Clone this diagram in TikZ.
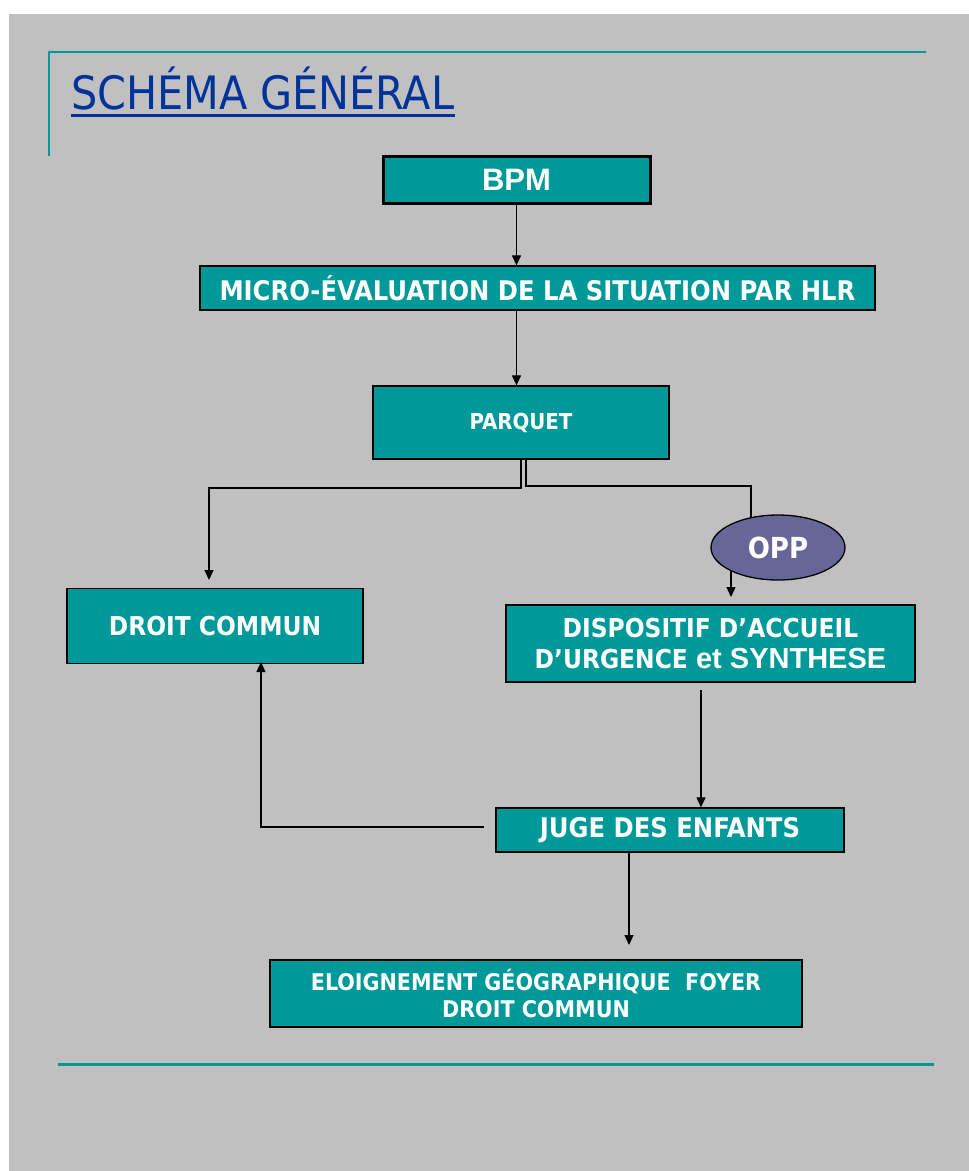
\documentclass[tikz,border=0pt]{standalone}
\usepackage{fontspec}
\usetikzlibrary{arrows.meta,shapes.geometric}
\newfontfamily\cond{DejaVu Sans Condensed}
\newfontfamily\arialf{Liberation Sans}
\definecolor{bggray}{HTML}{C0C0C0}
\definecolor{tealc}{HTML}{009999}
\definecolor{titleblue}{HTML}{003399}
\definecolor{oppcol}{HTML}{666699}
\begin{document}
\begin{tikzpicture}[x=1pt,y=-1pt,
  box/.style={draw=black, line width=1.3pt, fill=tealc, text=white, inner sep=0pt, align=center, font=\cond\bfseries},
  conn/.style={line width=1.2pt, draw=black},
  arr/.style={conn, -{Triangle[width=9pt,length=10pt]}},
  rule/.style={draw=tealc, line width=2pt}]
\useasboundingbox (0,0) rectangle (969,1171);
\fill[white] (0,0) rectangle (969,1171);
\fill[bggray] (9,14) rectangle (969,1171);
% frame lines
\draw[rule] (49,156) -- (49,52) -- (926,52);
\draw[rule, line width=3pt] (58,1064) -- (934,1064);
% title
\node[anchor=base west, text=titleblue, inner sep=0pt, font=\cond\fontsize{46}{50}\selectfont] (title) at (71,109) {SCHÉMA GÉNÉRAL};
\draw[titleblue, line width=3pt] ([yshift=-6pt]title.base west) -- ([yshift=-6pt]title.base east);
% nodes
\node[box, line width=3pt, minimum width=267, minimum height=47, font=\arialf\bfseries\fontsize{31}{33}\selectfont] (bpm) at (516.5,179.5) {BPM};
\node[box, minimum width=675, minimum height=44, font=\cond\bfseries\fontsize{27}{30}\selectfont] (micro) at (537.5,288) {MICRO-ÉVALUATION DE LA SITUATION PAR HLR};
\node[box, minimum width=296, minimum height=73, font=\cond\bfseries\fontsize{22}{26}\selectfont] (parquet) at (521,422.5) {PARQUET};
\node[box, minimum width=296, minimum height=75, font=\cond\bfseries\fontsize{26}{29}\selectfont] (droit) at (215,626) {DROIT COMMUN};
\node[ellipse, draw=black, line width=1.3pt, fill=oppcol, text=white, inner sep=0pt, minimum width=134, minimum height=65, font=\cond\bfseries\fontsize{29}{31}\selectfont] (opp) at (778,547.5) {OPP};
\node[box, minimum width=409, minimum height=77, font=\cond\bfseries\fontsize{26}{31}\selectfont] (dispo) at (710.5,643.5) {DISPOSITIF D’ACCUEIL\\D’URGENCE {\arialf\bfseries\fontsize{29}{31}\selectfont et SYNTHESE}};
\node[box, minimum width=348, minimum height=44, font=\cond\bfseries\fontsize{27}{30}\selectfont] (juge) at (670,830) {JUGE DES ENFANTS};
\node[box, minimum width=532, minimum height=67, font=\cond\bfseries\fontsize{23}{27}\selectfont] (eloign) at (536,993.5) {ELOIGNEMENT GÉOGRAPHIQUE\ \ FOYER\\DROIT COMMUN};
% coordinates
\coordinate (pl) at (521,488);
\coordinate (dcin) at (209,580);
\coordinate (pr) at (526,486);
\coordinate (oppin) at (751,517);
\coordinate (oppout) at (731,571);
\coordinate (dispin) at (731,597);
\coordinate (dj) at (701,690);
\coordinate (jd) at (484,827);
\coordinate (dcb) at (261,662);
\coordinate (je) at (629,852);
\coordinate (elin) at (629,945);
% connectors
\draw[arr] (bpm.south) -- (bpm.south |- micro.north);
\draw[arr] (bpm.south |- micro.south) -- (bpm.south |- parquet.north);
\draw[arr] (parquet.south) -- (pl) -| (dcin);
\draw[conn] ([xshift=5pt]parquet.south) -- (pr) -| (oppin);
\draw[arr] (oppout) -- (dispin);
\draw[arr] (dj) -- (dj |- juge.north);
\draw[arr] (jd) -| (dcb);
\draw[arr] (je) -- (elin);
\end{tikzpicture}
\end{document}
